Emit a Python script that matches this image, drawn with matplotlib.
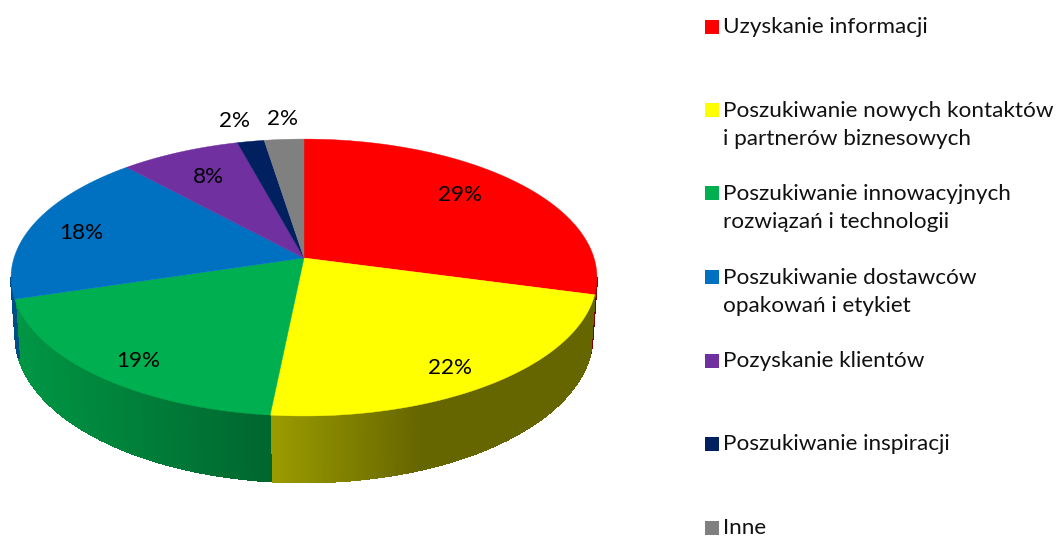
import numpy as np
import matplotlib
matplotlib.use('Agg')
import matplotlib.pyplot as plt
from matplotlib.patches import Rectangle

# shares, the labels are the rounded ones shown in the picture
categories = ['Uzyskanie informacji',
              'Poszukiwanie nowych kontaktów\ni partnerów biznesowych',
              'Poszukiwanie innowacyjnych\nrozwiązań i technologii',
              'Poszukiwanie dostawców\nopakowań i etykiet',
              'Pozyskanie klientów',
              'Poszukiwanie inspiracji',
              'Inne']
values = [29.2, 22.4, 18.7, 17.9, 7.6, 1.7, 2.5]
pct_labels = ['29%', '22%', '19%', '18%', '8%', '2%', '2%']
colors = ['#FF0000', '#FFFF00', '#00B050', '#0070C0', '#7030A0', '#002060', '#808080']

plt.rcParams['font.family'] = ['Lato', 'DejaVu Sans']
FS = 16.2

# pie geometry in pixels, perspective squeezes the back half
cx, cy = 304, 258
A, B, k = 290.0, 135.7, 0.141
depth = 57.0

label_xy = [(460, 195), (450, 368), (138, 361), (81, 233), (208, 177), (235, 121), (282, 119)]
legend_y = [27, 125, 208, 292, 361, 444, 528]


def project(theta):
    # theta clockwise from the top of the pie
    u, v = np.sin(theta), -np.cos(theta)
    w = 1 - k * v
    return cx + A * u / w, cy + B * v / w, depth / w


def wall_shade(i, x):
    # how dark the side wall gets, differs per slice
    if i == 1:
        return np.interp(x, [270, 420], [0.61, 0.40])
    if i == 2:
        return np.interp(x, [20, 270], [0.85, 0.58])
    if i == 3:
        return 0.7
    return 0.5


fig = plt.figure(figsize=(10.56, 5.36), dpi=100)
ax = fig.add_axes([0, 0, 1, 1])
ax.set_xlim(0, 1056)
ax.set_ylim(536, 0)
ax.axis('off')

edges = np.concatenate([[0], np.cumsum(values)]) / np.sum(values) * 2 * np.pi
th_right = np.arccos(-k)
th_left = 2 * np.pi - th_right

# side wall first, strips without antialiasing so no seams show
for i, c in enumerate(colors):
    t0, t1 = max(edges[i], th_right), min(edges[i + 1], th_left)
    if t1 <= t0:
        continue
    base = np.array(matplotlib.colors.to_rgb(c))
    ts = np.linspace(t0, t1, max(int((t1 - t0) * 200), 2))
    for a, b in zip(ts[:-1], ts[1:]):
        xa, ya, da = project(a)
        xb, yb, db = project(b)
        xa2 = cx + (xa - cx) * 0.985
        xb2 = cx + (xb - cx) * 0.985
        col = base * wall_shade(i, (xa + xb) / 2)
        ax.fill([xa, xb, xb2, xa2], [ya, yb, yb + db, ya + da], color=col, lw=0.8, antialiased=False)

# top face
for i, c in enumerate(colors):
    ts = np.linspace(edges[i], edges[i + 1], 200)
    x, y, _ = project(ts)
    ax.fill(np.r_[cx, x], np.r_[cy, y], color=c, lw=0.3)

for (x, y), s in zip(label_xy, pct_labels):
    ax.text(x, y, s, fontsize=FS, color='black', ha='center', va='center')

for c, name, y in zip(colors, categories, legend_y):
    first_line = y - 15 if '\n' in name else y
    ax.add_patch(Rectangle((705, first_line - 7), 14, 14, color=c, lw=0))
    ax.text(723, y, name, fontsize=FS, color='#111111', ha='left', va='center', linespacing=1.5)

fig.savefig('out.png', dpi=100)
